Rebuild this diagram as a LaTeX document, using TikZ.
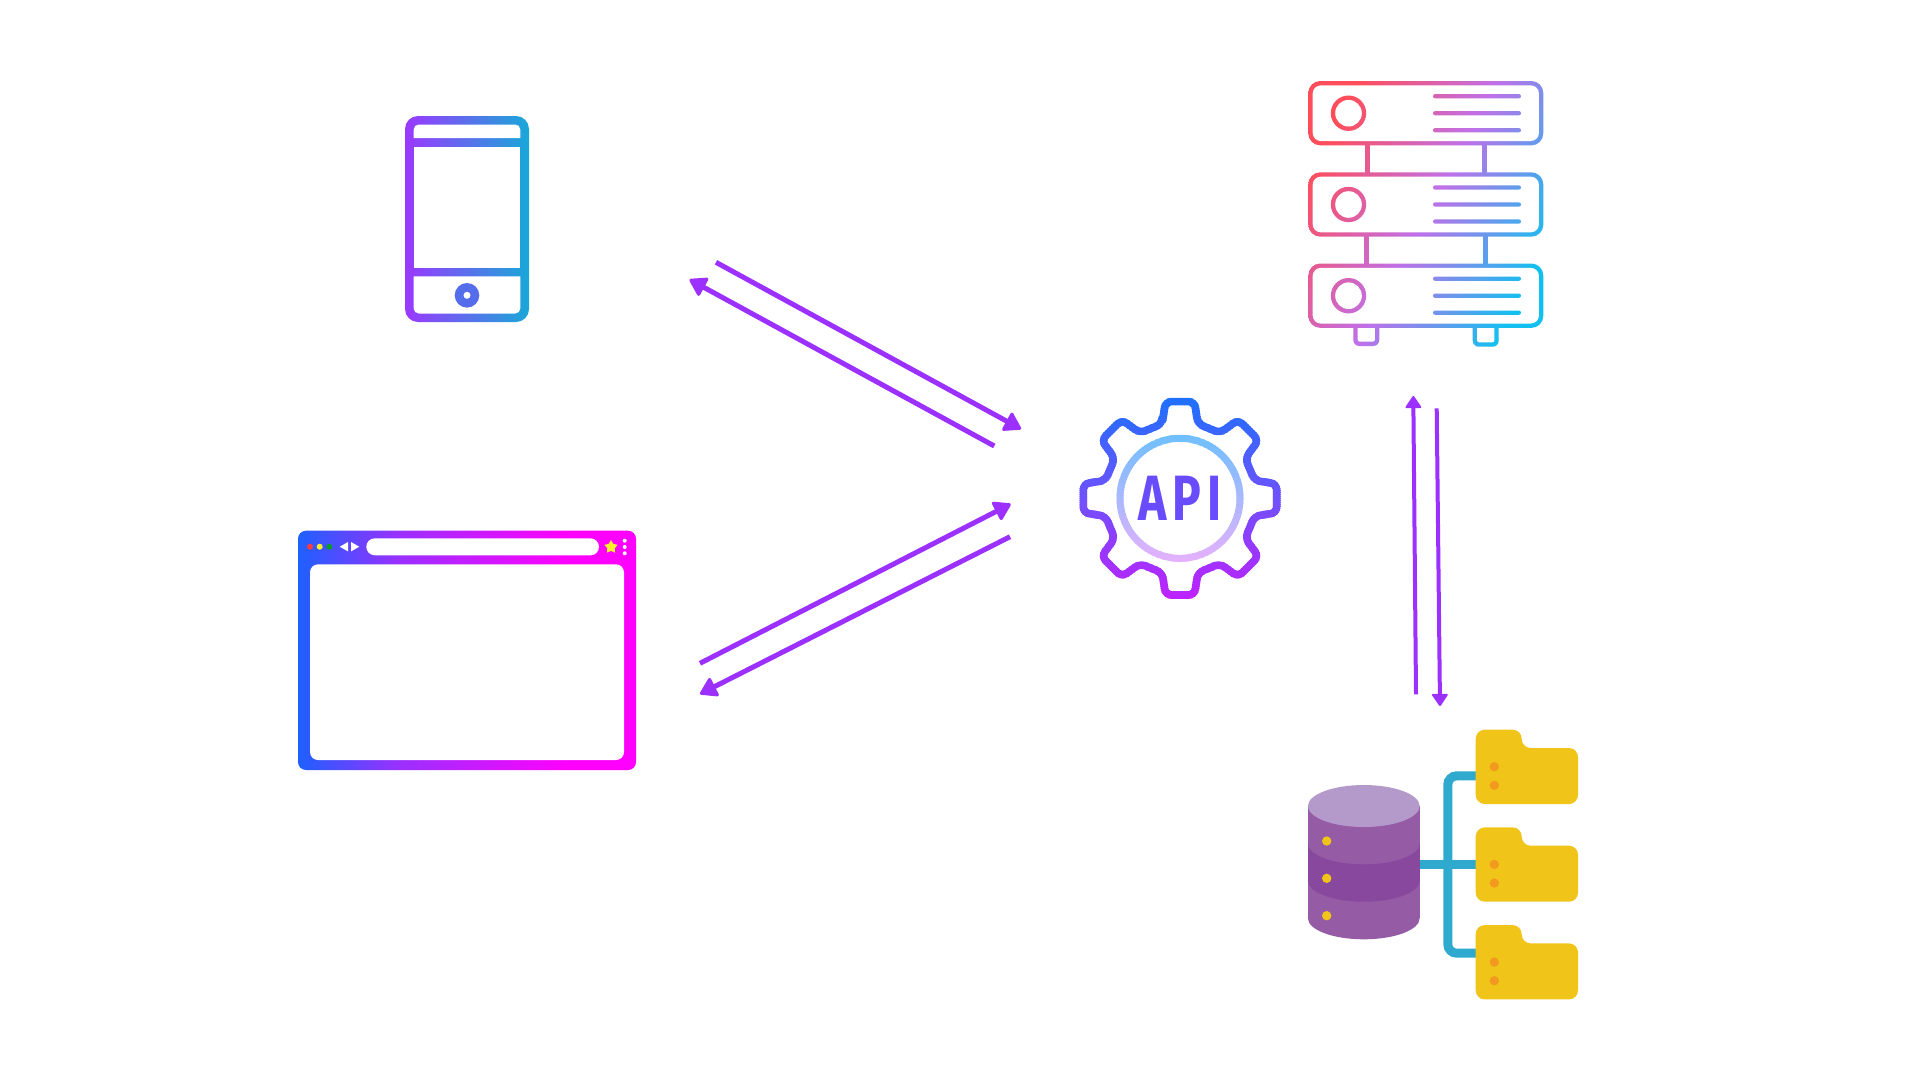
\documentclass[tikz,border=0pt]{standalone}
\usepackage{fontspec}
\usetikzlibrary{shapes.geometric,arrows.meta}
\definecolor{arrowc}{HTML}{9B30FF}
\definecolor{tealc}{HTML}{2FA9CE}
\definecolor{fold}{HTML}{F1C419}
\definecolor{folddot}{HTML}{F29A1F}
\definecolor{dbtop}{HTML}{B49ACB}
\definecolor{dba}{HTML}{955BA5}
\definecolor{dbb}{HTML}{87489D}
\definecolor{apic}{HTML}{6A4CFF}
\definecolor{ydot}{HTML}{FFF02B}
\definecolor{redot}{HTML}{FF3B3B}
\definecolor{grdot}{HTML}{0A9B2A}
\definecolor{phL}{HTML}{9B38FF}
\definecolor{phR}{HTML}{18A8D8}
\definecolor{phB}{HTML}{556CEB}
\definecolor{brA}{HTML}{1E60FF}
\definecolor{brB}{HTML}{9A30FF}
\definecolor{brC}{HTML}{E010FF}
\definecolor{brD}{HTML}{FF00FF}
\definecolor{svA}{HTML}{FF4D5A}
\definecolor{svB}{HTML}{C070E8}
\definecolor{svC}{HTML}{12C0F0}
\definecolor{geA}{HTML}{1E70FF}
\definecolor{geB}{HTML}{7050FF}
\definecolor{geC}{HTML}{C020FF}
\definecolor{riA}{HTML}{6CC0FF}
\definecolor{riB}{HTML}{E8B0FF}
\pgfdeclarehorizontalshading{browsergrad}{100bp}{color(0bp)=(brA);color(25bp)=(brA);color(40bp)=(brB);color(57bp)=(brC);color(65bp)=(brD);color(75bp)=(brD);color(100bp)=(brD)}
\pgfdeclarehorizontalshading{servergrad}{100bp}{color(0bp)=(svA);color(25bp)=(svA);color(50bp)=(svB);color(75bp)=(svC);color(100bp)=(svC)}
\tikzset{
  conn/.style={draw=arrowc,line width=5pt,-{Triangle[length=18pt,width=22pt,line width=3pt,round]}},
  connv/.style={draw=arrowc,line width=4pt,-{Triangle[length=13pt,width=17pt,line width=2pt,round]}},
}
% paints the server's whole frame with one gradient; used inside clips
\newcommand{\srvpaint}{\shade[shading=servergrad,shading angle=-28] (1308,81) rectangle (1544,347);}
\newcommand{\srvrect}[4]{% x1 y1 x2 y2 outer
  \begin{scope}\clip[rounded corners=12pt] (#1,#2) rectangle (#3,#4);\srvpaint\end{scope}
  \fill[white,rounded corners=8pt] (#1+4.4,#2+4.4) rectangle (#3-4.4,#4-4.4);}
\newcommand{\srvbar}[4]{\begin{scope}\clip (#1,#2) rectangle (#3,#4);\srvpaint\end{scope}}
\newcommand{\srvline}[1]{\begin{scope}\clip[rounded corners=2.15pt] (1433,#1-2.15) rectangle (1521,#1+2.15);\srvpaint\end{scope}}
\newcommand{\srvcirc}[1]{\begin{scope}\clip (1348.5,#1) circle[radius=17.7];\srvpaint\end{scope}\fill[white] (1348.5,#1) circle[radius=13.3];}
\newcommand{\srvrack}[1]{% y centre
  \srvrect{1308.3}{#1-32.2}{1543.3}{#1+32.2}
  \srvcirc{#1}
  \srvline{#1-17}\srvline{#1}\srvline{#1+17}}
\newcommand{\srvfoot}[3]{% x1 x2 ybottom
  \begin{scope}\clip[rounded corners=6pt] (#1,310) rectangle (#2,#3);\srvpaint\end{scope}
  \fill[white,rounded corners=2pt] (#1+4.4,310) rectangle (#2-4.4,#3-4.4);}
\newcommand{\gearpath}{
    ([rotate=0]-17.8,-74.5)
    \foreach \a in {0,45,...,315}{
      -- ([rotate=-\a]-17.8,-74.5) -- ([rotate=-\a]-14.5,-96.7) -- ([rotate=-\a]14.5,-96.7) -- ([rotate=-\a]17.8,-74.5)
    } -- cycle}
\newfontfamily\apifont[LetterSpace=12]{Fira Sans}
\begin{document}
\begin{tikzpicture}[x=1pt,y=-1pt]
\useasboundingbox (0,0) rectangle (1920,1080);
\fill[white] (0,0) rectangle (1920,1080);

% ---- phone
\shade[left color=phL,right color=phR,rounded corners=13pt] (405,116) rectangle (529,322);
\fill[white] (413.7,138) [rounded corners=5pt] -- (413.7,124.5) -- (520.3,124.5) [sharp corners] -- (520.3,138) -- cycle;
\fill[white] (413.7,146.6) rectangle (520.3,268);
\fill[white] (413.7,276.3) [rounded corners=5pt] -- (413.7,313.5) -- (520.3,313.5) [sharp corners] -- (520.3,276.3) -- cycle;
\fill[phB] (467,295.3) circle[radius=12.3];
\fill[white] (467,295.3) circle[radius=3.5];

% ---- browser
\shade[shading=browsergrad,rounded corners=8pt] (298,530.7) rectangle (636,770);
\fill[white,rounded corners=8pt] (310,564.3) rectangle (624,760);
\fill[white,rounded corners=8.5pt] (366.3,538.3) rectangle (599,555.3);
\fill[redot] (310,546.7) circle[radius=3];
\fill[ydot] (319.7,546.7) circle[radius=3];
\fill[grdot] (329.3,546.7) circle[radius=3];
\fill[white] (339.7,546.7) -- (348,542) -- (348,551.4) -- cycle;
\fill[white] (359.3,546.7) -- (351,542) -- (351,551.4) -- cycle;
\node[star,star points=5,star point ratio=1.8,fill=ydot,minimum size=14pt,inner sep=0pt] (bstar) at (611,547) {};
\foreach \y in {540.7,547,553.3} \fill[white] (624.7,\y) circle[radius=2];

% ---- server
\srvbar{1365.2}{140}{1369.5}{177}
\srvbar{1482.1}{140}{1486.5}{177}
\srvbar{1364.1}{232}{1368.5}{268}
\srvbar{1483.5}{232}{1487.9}{268}
\srvfoot{1353.3}{1379.3}{346}
\srvfoot{1472.7}{1498.7}{346.7}
\srvrack{113.2}
\srvrack{204.5}
\srvrack{295.7}

% ---- gear, stroked through pixel-aligned stripes for its vertical gradient
\foreach \i in {0,...,102}{
  \pgfmathtruncatemacro{\ya}{396+2*\i}
  \pgfmathtruncatemacro{\yb}{\ya+2}
  \pgfmathtruncatemacro{\pa}{min(100,\i*1.96)}
  \pgfmathtruncatemacro{\pb}{max(0,(\i-51)*1.96)}
  \ifnum\i<52 \colorlet{stripc}{geB!\pa!geA}\else\colorlet{stripc}{geC!\pb!geB}\fi
  \begin{scope}
    \clip (1060,\ya) rectangle (1300,\yb);
    \draw[shift={(1180,498.3)},stripc,line width=7.6pt,rounded corners=6pt,line join=round] \gearpath;
  \end{scope}
}
\foreach \i in {0,...,66}{
  \pgfmathtruncatemacro{\ya}{431+2*\i}
  \pgfmathtruncatemacro{\yb}{\ya+2}
  \pgfmathtruncatemacro{\pa}{\i*100/66}
  \colorlet{stripc}{riB!\pa!riA}
  \begin{scope}
    \clip (1100,\ya) rectangle (1260,\yb);
    \draw[stripc,line width=7pt] (1180,498.3) circle[radius=60];
  \end{scope}
}
\node[text=apic,xscale=.75,inner sep=0pt] (apilabel) at (1180,498.3) {\apifont\bfseries\fontsize{64}{64}\selectfont API};

% ---- database
\fill[dba] (1308,806) rectangle (1419.7,918.3);
\fill[dba] (1363.8,918.3) ellipse[x radius=55.85,y radius=21];
\fill[dbb] (1308,806) rectangle (1419.7,880.7);
\fill[dbb] (1363.8,880.7) ellipse[x radius=55.85,y radius=21];
\fill[dba] (1308,806) rectangle (1419.7,843.3);
\fill[dba] (1363.8,843.3) ellipse[x radius=55.85,y radius=21];
\fill[dbtop] (1363.8,806) ellipse[x radius=55.85,y radius=21];
\foreach \y in {841,878.3,915.7} \fill[fold] (1326.7,\y) circle[radius=4.7];

% ---- folder connectors
\draw[tealc,line width=9pt] (1419.7,864.5) -- (1476,864.5);
\draw[tealc,line width=9pt,rounded corners=9pt] (1476,775.8) -- (1447.8,775.8) -- (1447.8,953.2) -- (1476,953.2);

% ---- folders
\foreach \o in {0,97.7,195.4}{
  \begin{scope}[yshift=-\o pt]
    \fill[fold,rounded corners=9pt] (1475.7,804) -- (1475.7,729.7) -- (1521.7,729.7) -- (1521.7,748) -- (1578,748) -- (1578,804) -- cycle;
    \fill[folddot] (1494.3,766.7) circle[radius=4.7];
    \fill[folddot] (1494.3,785.3) circle[radius=4.7];
  \end{scope}
}

% ---- connectors
\coordinate (a1) at (716,262.3);
\coordinate (a1e) at (1021,429);
\coordinate (a2) at (994.3,446);
\coordinate (a2e) at (689.5,279.5);
\coordinate (a3) at (700,663.3);
\coordinate (a3e) at (1010.7,504);
\coordinate (a4) at (1010,536.7);
\coordinate (a4e) at (700,694);
\coordinate (a5) at (1416,694.3);
\coordinate (a5e) at (1413.3,396);
\coordinate (a6) at (1436.7,408.3);
\coordinate (a6e) at (1440,706);
\draw[conn] (a1) -- (a1e);
\draw[conn] (a2) -- (a2e);
\draw[conn] (a3) -- (a3e);
\draw[conn] (a4) -- (a4e);
\draw[connv] (a5) -- (a5e);
\draw[connv] (a6) -- (a6e);
\end{tikzpicture}
\end{document}
